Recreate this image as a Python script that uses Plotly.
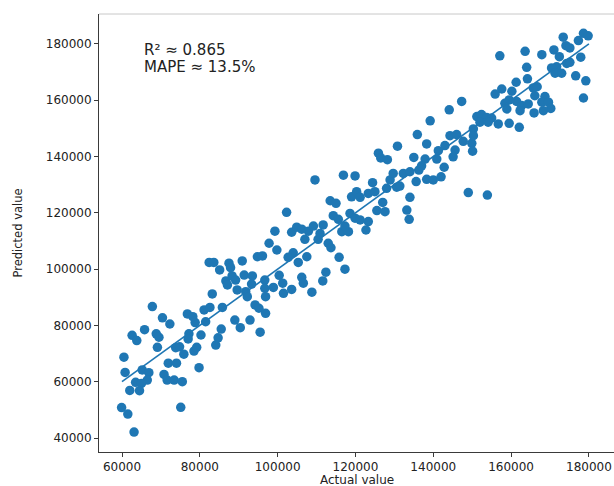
import plotly.graph_objects as go

# Actual values (x) and predicted values (y)
actual = [
    60500, 60800, 59900, 61500, 63100, 62600, 63800, 65800, 68800, 69500,
    69100, 72300, 65200, 66900, 66500, 63500, 65000, 62000, 64500, 70800,
    71600, 73400, 75500, 75100, 71900, 74000, 73800, 74800, 75900, 77200,
    77000, 78500, 79200, 79800, 80300, 78800, 81500, 84100, 84700, 85500,
    89000, 90400, 92900, 95500, 67800, 70400, 76800, 78200, 81100, 82600,
    85800, 83200, 82400, 83600, 85100, 87500, 87900, 90900, 86700, 87100,
    88300, 89200, 91400, 93500, 89600, 91800, 92200, 93300, 94800, 96100,
    96700, 96700, 94200, 95200, 96900, 97800, 96900, 109600, 116900, 119900,
    102300, 99300, 99800, 103600, 104900, 106200, 107900, 109200, 111700, 107000,
    110400, 110900, 113000, 113700, 104000, 102700, 105300, 107500, 115800, 117300,
    112400, 111600, 106200, 106600, 108800, 100400, 101300, 98900, 101500, 103600,
    113500, 115000, 114300, 115600, 118600, 119900, 121200, 123300, 122700, 116500,
    118200, 117300, 119000, 120300, 121200, 123300, 125000, 124400, 127000, 125500,
    127600, 128000, 128900, 129700, 130600, 131400, 132300, 134000, 135600, 138300,
    134000, 133200, 133800, 136300, 139200, 135900, 130800, 125900, 126500, 128200,
    135000, 137900, 138300, 137000, 157100, 163600, 167900, 164000, 173400, 174100,
    175100, 177300, 178600, 179800, 171000, 172400, 177900, 174300, 175100, 171700,
    170400, 171300, 173000, 176600, 179200, 178600, 161300, 164200, 166700, 165700,
    160200, 157600, 155900, 159500, 161400, 162700, 164400, 166100, 168700, 167900,
    169600, 170200, 168300, 165900, 162300, 158400, 158900, 147300, 144100, 151200,
    152400, 153700, 155000, 152000, 154100, 156700, 159500, 162100, 150300, 144300,
    146000, 147700, 149900, 150300, 143000, 141300, 145600, 150100, 140900, 145100,
    142800, 140000, 142000, 149000, 153900,
]
predicted = [
    68700, 63300, 50800, 48500, 42100, 76500, 74600, 78500, 77000, 75800,
    72200, 80500, 64200, 63200, 60600, 59800, 59400, 56900, 56800, 62600,
    60600, 60600, 60000, 50900, 66600, 66600, 72100, 72400, 69800, 77000,
    75200, 70900, 72200, 65000, 76600, 81000, 81300, 73000, 75600, 78700,
    81900, 79200, 81900, 77600, 86700, 82700, 84100, 83100, 85500, 86400,
    86400, 91200, 102400, 102400, 99700, 102100, 100500, 102900, 95800, 94400,
    97600, 96100, 97900, 97600, 92600, 92000, 90200, 94700, 104400, 104700,
    96100, 93200, 87300, 86100, 84300, 109200, 90200, 131700, 133400, 133100,
    120200, 113500, 106800, 113100, 114900, 114200, 113500, 115300, 115700, 110600,
    110600, 112700, 109200, 107600, 105800, 104200, 102400, 104400, 104200, 100000,
    98900, 95800, 97100, 95000, 91800, 97800, 95000, 93500, 91400, 92800,
    124300, 123400, 119000, 117700, 119800, 118100, 117500, 116900, 113900, 113300,
    113300, 115300, 125700, 127500, 125500, 126900, 127500, 130700, 123700, 120800,
    120400, 128700, 131700, 134000, 129100, 129500, 134000, 134600, 131100, 131900,
    125500, 121000, 117700, 135200, 152700, 147800, 143700, 141200, 139500, 138900,
    139700, 139100, 144500, 136700, 175800, 177400, 176200, 171700, 182400, 179400,
    178600, 181200, 183800, 182900, 177900, 175500, 175300, 173100, 173500, 171900,
    171500, 169600, 169600, 168700, 166900, 160800, 166400, 167600, 164800, 164400,
    163200, 164000, 162200, 160100, 159600, 158100, 158700, 161600, 161300, 159300,
    159300, 157100, 156300, 155500, 156300, 158900, 156900, 159600, 156600, 154200,
    154900, 153900, 153700, 152200, 152200, 151600, 151800, 150400, 149800, 147400,
    147800, 145400, 144700, 147400, 143900, 142100, 142300, 141900, 139100, 139900,
    136200, 131700, 132800, 127200, 126300,
]

# Reference line (ideal fit) endpoints
line_x = [60000, 180000]
line_y = [60000, 180000]

x_ticks = [60000, 80000, 100000, 120000, 140000, 160000, 180000]
y_ticks = [40000, 60000, 80000, 100000, 120000, 140000, 160000, 180000]

metric_lines = ["R² ≈ 0.865", "MAPE ≈ 13.5%"]

BLUE = "#1f77b4"
FONT = "DejaVu Sans"

fig = go.Figure()
fig.add_trace(go.Scatter(
    x=actual, y=predicted, mode="markers",
    marker=dict(color=BLUE, size=9.5, line=dict(width=0)),
    showlegend=False, hoverinfo="skip",
))
fig.add_trace(go.Scatter(
    x=line_x, y=line_y, mode="lines",
    line=dict(color=BLUE, width=1.6),
    showlegend=False, hoverinfo="skip",
))

axis_common = dict(
    showgrid=False, zeroline=False,
    showline=True, linecolor="#3a3a3a", linewidth=1,
    ticks="outside", ticklen=4, tickwidth=1, tickcolor="#3a3a3a",
    tickfont=dict(family=FONT, size=12, color="#222222"),
)

fig.update_layout(
    width=614, height=486,
    margin=dict(l=99, r=0, t=14, b=34),
    paper_bgcolor="white", plot_bgcolor="white",
    font=dict(family=FONT, color="#222222"),
    xaxis=dict(range=[54090, 186445], tickvals=x_ticks,
               ticktext=[str(v) for v in x_ticks], **axis_common),
    yaxis=dict(range=[35026, 190650], tickvals=y_ticks,
               ticktext=[str(v) for v in y_ticks], **axis_common),
    shapes=[dict(type="line", xref="paper", yref="paper", x0=0, x1=1, y0=1, y1=1,
                 line=dict(color="#c8c8c8", width=1))],
    annotations=[
        dict(text="Actual value", xref="paper", yref="paper", x=0.5, y=0,
             xanchor="center", yanchor="middle", yshift=-27.5, showarrow=False,
             borderpad=0, font=dict(family=FONT, size=12, color="#222222")),
        dict(text="Predicted value", xref="paper", yref="paper", x=0, y=0.5,
             xanchor="center", yanchor="middle", xshift=-81.5, textangle=-90,
             showarrow=False, font=dict(family=FONT, size=11.5, color="#222222")),
        dict(text=metric_lines[0], xref="paper", yref="paper", x=0.083, y=0.9185,
             xanchor="left", yanchor="middle", showarrow=False,
             font=dict(family=FONT, size=15, color="#222222")),
        dict(text=metric_lines[1], xref="paper", yref="paper", x=0.083, y=0.8783,
             xanchor="left", yanchor="middle", showarrow=False,
             font=dict(family=FONT, size=15, color="#222222")),
    ],
)

fig.write_html(
    "out.html",
    config={"displayModeBar": False},
    post_script="document.body.style.margin='0';document.body.style.overflow='hidden';",
)
